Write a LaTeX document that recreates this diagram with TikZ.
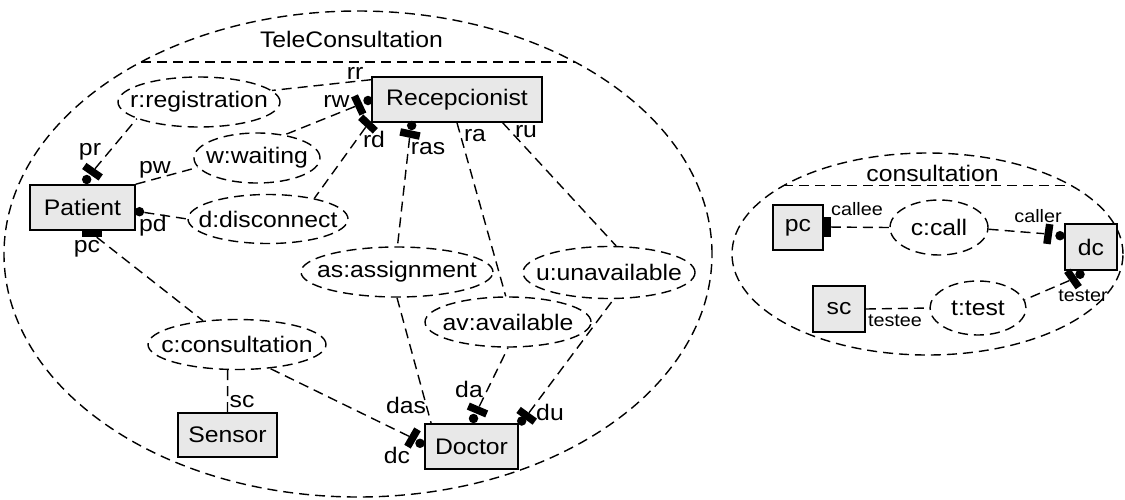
\documentclass[tikz,border=0pt]{standalone}
\usepackage{fontspec}
\setmainfont{Liberation Sans}[FakeStretch=1.1]
\usetikzlibrary{shapes.geometric}

\definecolor{boxfill}{RGB}{232,232,232}

\tikzset{
  every node/.style={font=\fontsize{22.5}{26}\selectfont},
  dashline/.style={dashed, line width=1.4pt, dash pattern=on 10pt off 6pt},
  container/.style={ellipse, draw, dashline, inner sep=0pt},
  role/.style={ellipse, draw, dashline, inner sep=0pt},
  comp/.style={rectangle, draw, line width=1.6pt, fill=boxfill, inner sep=0pt},
  pdot/.style={circle, fill=black, inner sep=0pt, minimum size=9.5pt},
  pbar/.style={rectangle, fill=black, inner sep=0pt, minimum width=7.5pt, minimum height=20pt},
  lbl/.style={anchor=base, inner sep=0pt},
  slbl/.style={anchor=base, inner sep=0pt, font=\fontsize{18}{21}\selectfont},
}

\begin{document}
\begin{tikzpicture}[x=1pt, y=-1pt]
\useasboundingbox (0,0) rectangle (1125,499);

% ---------------- TeleConsultation ----------------
\node[container, minimum width=708pt, minimum height=486pt] (tele) at (358,254) {};
\draw[dashline] (141,62) -- (575,62);
\node[lbl] (teletitle) at (351.5,47) {TeleConsultation};

% roles
\node[role, minimum width=162pt, minimum height=50pt, label={center:{r:registration}}] (reg) at (199,102) {};
\node[role, minimum width=126pt, minimum height=50pt, label={center:{w:waiting}}] (wait) at (257,158) {};
\node[role, minimum width=160pt, minimum height=49pt, label={center:{d:disconnect}}] (disc) at (268,219) {};
\node[role, minimum width=192pt, minimum height=50pt, label={center:{as:assignment}}] (asg) at (397,272) {};
\node[role, minimum width=172pt, minimum height=52pt, label={center:{u:unavailable}}] (unav) at (609,272.5) {};
\node[role, minimum width=166pt, minimum height=50pt, label={center:{av:available}}] (avail) at (508,322) {};
\node[role, minimum width=178pt, minimum height=50pt, label={center:{c:consultation}}] (cons) at (237,344.5) {};

% components
\node[comp, minimum width=105pt, minimum height=45pt] (pat) at (82.5,207.5) {Patient};
\node[comp, minimum width=170pt, minimum height=45pt] (rec) at (457,99.5) {Recepcionist};
\node[comp, minimum width=99pt, minimum height=44pt] (sen) at (227.5,435) {Sensor};
\node[comp, minimum width=93pt, minimum height=45pt] (doc) at (471.5,446.5) {Doctor};

% ports: dots
\node[pdot] (prdot) at (86.7,179.5) {};
\node[pdot] (pddot) at (139.5,211.7) {};
\node[pdot] (rwdot) at (368,100.5) {};
\node[pdot] (rasdot) at (411.7,125.5) {};
\node[pdot] (dcdot) at (420,443.3) {};
\node[pdot] (dadot) at (473.5,418.5) {};
\node[pdot] (dudot) at (521.7,421) {};

% ports: bars
\node[pbar, rotate=55] (prbar) at (92.5,171.7) {};
\node[pbar, minimum width=20.5pt, minimum height=7pt] (pcbar) at (92,233.5) {};
\node[pbar, rotate=25] (rwbar) at (358.7,105) {};
\node[pbar, rotate=47] (rdbar) at (368,124) {};
\node[pbar, rotate=78] (rasbar) at (410,134) {};
\node[pbar, rotate=150] (dcbar) at (412.5,438) {};
\node[pbar, rotate=67] (dabar) at (477.5,410) {};
\node[pbar, rotate=54] (dubar) at (526.7,415.8) {};

% attachments
\draw[dashline] (prbar) -- (reg.195);
\draw[dashline] (pat.north east) -- (wait.189);
\draw[dashline] (pddot) -- (disc.180);
\draw[dashline] (pcbar) -- (cons.145);
\draw[dashline] (rec.167) -- (reg.9);
\draw[dashline] (rwbar) -- (wait.40);
\draw[dashline] (rdbar) -- (disc.24);
\draw[dashline] (rasbar) -- (asg.89);
\draw[dashline] (rec.south) -- (avail.95);
\draw[dashline] (rec.333) -- (unav.75);
\draw[dashline] (asg.270) -- (doc.150);
\draw[dashline] (dcbar) -- (cons.324);
\draw[dashline] (dabar) -- (avail.270);
\draw[dashline] (dubar) -- (unav.280);
\draw[dashline] (sen.north) -- (cons.250);

% port labels
\node[lbl] (lpr) at (90,155) {pr};
\node[lbl] (lpw) at (155,173) {pw};
\node[lbl] (lpd) at (153,231) {pd};
\node[lbl] (lpc) at (87,252) {pc};
\node[lbl] (lrr) at (355,79) {rr};
\node[lbl] (lrw) at (336.5,107) {rw};
\node[lbl] (lrd) at (374,147) {rd};
\node[lbl] (lras) at (428,154) {ras};
\node[lbl] (lra) at (475,141) {ra};
\node[lbl] (lru) at (526,137) {ru};
\node[lbl] (ldas) at (406,413) {das};
\node[lbl] (ldc) at (397,463) {dc};
\node[lbl] (lda) at (469,397) {da};
\node[lbl] (ldu) at (550,420) {du};
\node[lbl] (lsc) at (242,407) {sc};

% ---------------- consultation ----------------
\node[container, minimum width=391pt, minimum height=202pt] (consult) at (927.5,254) {};
\draw[dashline] (783.4,185.7) -- (1071.6,185.7);
\node[lbl] (consulttitle) at (932.5,181) {consultation};

\node[role, minimum width=98pt, minimum height=55pt, label={center:{c:call}}] (call) at (939,227.5) {};
\node[role, minimum width=96pt, minimum height=54pt, label={center:{t:test}}] (test) at (978,308) {};

\node[comp, minimum width=50pt, minimum height=45pt] (pc) at (798,227.5) {pc};
\node[comp, minimum width=52pt, minimum height=46pt] (dc) at (1091,247) {dc};
\node[comp, minimum width=52pt, minimum height=46pt] (sc) at (839,309) {sc};

\node[pdot] (callerdot) at (1060,235.7) {};
\node[pdot] (testerdot) at (1080,274.3) {};
\node[pbar] (calleebar) at (827,227) {};
\node[pbar, rotate=172] (callerbar) at (1048.3,234) {};
\node[pbar, rotate=35] (testerbar) at (1073,279) {};

\draw[dashline] (calleebar) -- (call.180);
\draw[dashline] (call.358) -- (callerbar);
\draw[dashline] (testerbar) -- (test.10);
\draw[dashline] (sc.east) -- (test.180);

\node[slbl] (lcallee) at (857,215) {callee};
\node[slbl] (lcaller) at (1038,222) {caller};
\node[slbl] (ltester) at (1083,301) {tester};
\node[slbl] (ltestee) at (895,326) {testee};
\end{tikzpicture}
\end{document}
